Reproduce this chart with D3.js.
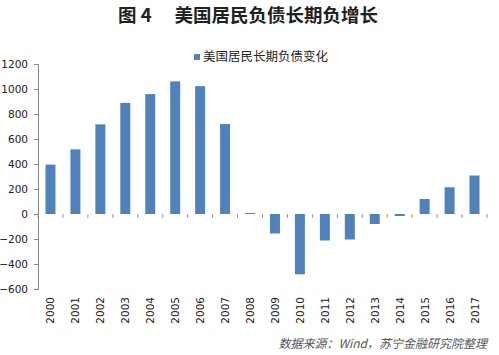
<!DOCTYPE html>
<html><head><meta charset="utf-8">
<script src="https://cdn.jsdelivr.net/npm/d3@7"></script>
<style>body{margin:0;background:#fff}svg{display:block}</style>
</head><body>
<svg id="c" width="499" height="355"></svg>
<script>
(function(){
const years = ["2000","2001","2002","2003","2004","2005","2006","2007","2008","2009","2010","2011","2012","2013","2014","2015","2016","2017"];
const values = [395,517,717,889,959,1061,1023,720,8,-156,-482,-212,-204,-80,-16,120,214,308];
const yTicks = [1200,1000,800,600,400,200,0,-200,-400,-600];
const title = "图 4\u3000 美国居民负债长期负增长";
const legendLabel = "美国居民长期负债变化";
const source = "数据来源：Wind，苏宁金融研究院整理";

const svg = d3.select("#c");
const mLeft = 38, mRight = 487, mTop = 64, mBottom = 289;
const x = d3.scaleBand().domain(years).range([mLeft, mRight]).paddingInner(0.6).paddingOuter(0.3);
const y = d3.scaleLinear().domain([-600, 1200]).range([mBottom, mTop]);
const numFont = "'DejaVu Sans', sans-serif";
const cjk = "'Noto Sans CJK SC', sans-serif";

svg.append("text").attr("x", 248).attr("y", 22).attr("text-anchor", "middle")
  .attr("font-family", cjk).attr("font-weight", "bold").attr("font-size", 18.5).attr("fill", "#222").text(title);

svg.append("rect").attr("x", 194).attr("y", 54).attr("width", 6).attr("height", 6).attr("fill", "#4f81bd");
svg.append("text").attr("x", 203).attr("y", 61).attr("font-family", cjk).attr("font-size", 12.5).attr("fill", "#222").text(legendLabel);

const ya = svg.append("g").attr("transform", `translate(${mLeft},0)`)
  .call(d3.axisLeft(y).tickValues(yTicks).tickSize(4).tickPadding(6).tickFormat(d3.format("d")));
ya.select(".domain").attr("stroke", "#888");
ya.selectAll(".tick line").attr("stroke", "#888");
ya.selectAll(".tick text").attr("font-family", numFont).attr("font-size", 10.5).attr("fill", "#222");

svg.append("g").selectAll("rect").data(values).join("rect")
  .attr("x", (d, i) => x(years[i]))
  .attr("width", x.bandwidth())
  .attr("y", d => y(Math.max(0, d)))
  .attr("height", d => Math.abs(y(d) - y(0)))
  .attr("fill", "#4f81bd");

const step = x.step();
const bounds = d3.range(years.length + 1).map(i => mLeft + i * step);
svg.append("g").selectAll("line").data(bounds).join("line")
  .attr("x1", d => d).attr("x2", d => d).attr("y1", y(0)).attr("y2", y(0) + 4)
  .attr("stroke", "#999");

svg.append("g").selectAll("text").data(years).join("text")
  .attr("transform", d => `translate(${x(d) + x.bandwidth() / 2 + 4},297) rotate(-90)`)
  .attr("text-anchor", "end")
  .attr("font-family", numFont).attr("font-size", 10.5).attr("fill", "#222").text(d => d);

svg.append("text").attr("x", 487).attr("y", 348).attr("text-anchor", "end")
  .attr("font-family", cjk).attr("font-style", "italic").attr("font-size", 12).attr("fill", "#555").text(source);
})();
</script>
</body></html>
